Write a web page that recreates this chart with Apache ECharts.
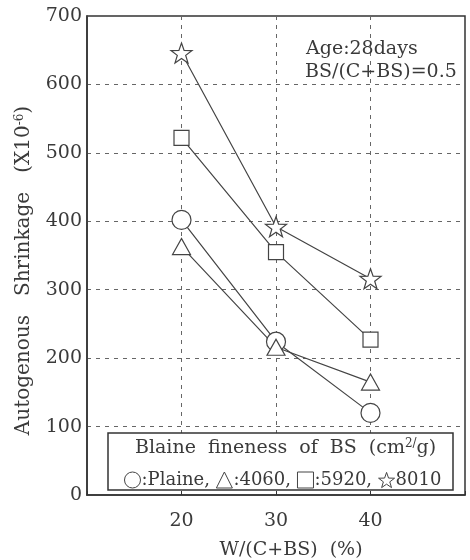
<!DOCTYPE html>
<html><head><meta charset="utf-8">
<script src="https://cdn.jsdelivr.net/npm/echarts@6/dist/echarts.min.js"></script>
<style>html,body{margin:0;padding:0;background:#fff}#c{width:470px;height:560px}</style>
</head><body><div id="c"></div>
<script>
const xValues = [20, 30, 40];
const seriesNames = ['Plaine', '4060', '5920', '8010'];
const plaine = [402, 224, 120];
const b4060 = [363, 216, 165];
const b5920 = [522, 355, 227];
const b8010 = [646, 392, 316];
const yTicks = [0, 100, 200, 300, 400, 500, 600, 700];
const xTicks = [20, 30, 40];

const FONT = "'DejaVu Serif','Liberation Serif',serif";
const INK = '#3a3a3a';
const STAR = 'path://M0,-10L2.35,-3.24L9.51,-3.09L3.8,1.24L5.88,8.09L0,4L-5.88,8.09L-3.8,1.24L-9.51,-3.09L-2.35,-3.24Z';
const symbols = ['circle', 'triangle', 'rect', STAR];
const sizes = [19, [18, 16], 15, 21];
const values = [plaine, b4060, b5920, b8010];

const chart = echarts.init(document.getElementById('c'), null, {renderer: 'canvas'});
chart.setOption({
  backgroundColor: '#fff',
  animation: false,
  grid: {left: 87, right: 5, top: 16, bottom: 65, show: true, borderColor: '#333', borderWidth: 1.5,
    backgroundColor: 'transparent', containLabel: false, outerBoundsMode: 'none'},
  xAxis: {
    type: 'value', min: 10, max: 50, interval: 10,
    axisLine: {lineStyle: {color: '#333', width: 1.5}},
    axisTick: {show: true, inside: true, length: 4, lineStyle: {color: '#333'}},
    axisLabel: {fontFamily: FONT, fontSize: 19, color: INK, margin: 17,
      formatter: v => xTicks.includes(v) ? String(v) : ''},
    splitLine: {show: true, lineStyle: {type: [4, 5], color: '#666', width: 1}},
    name: 'W/(C+BS)  (%)', nameLocation: 'middle', nameGap: 46,
    nameTextStyle: {fontFamily: FONT, fontSize: 19, color: INK, padding: [0, 0, 0, 30]}
  },
  yAxis: {
    type: 'value', min: 0, max: 700, interval: 100,
    axisLine: {show: true, lineStyle: {color: '#333', width: 1.5}},
    axisTick: {show: false},
    axisLabel: {fontFamily: FONT, fontSize: 19, color: INK, margin: 5,
      formatter: v => yTicks.includes(v) ? String(v) : ''},
    splitLine: {show: true, lineStyle: {type: [4, 5], color: '#666', width: 1}},
    name: '{n|Autogenous   Shrinkage   (X10}{s|-6}{n|)}', nameLocation: 'middle', nameGap: 53, nameRotate: 90,
    nameTextStyle: {padding: [0, 0, 0, -30], rich: {
      n: {fontFamily: FONT, fontSize: 20, color: INK},
      s: {fontFamily: FONT, fontSize: 12, color: INK, verticalAlign: 'top', padding: [0, 0, 8, 0]}
    }}
  },
  legend: {
    z: 20, left: 119, top: 466, orient: 'horizontal', itemGap: 6, itemWidth: 16, itemHeight: 16,
    textStyle: {fontFamily: FONT, fontSize: 18, color: INK, padding: [2, 0, 0, -4]},
    itemStyle: {color: '#fff', borderColor: '#444', borderWidth: 1},
    formatter: name => name === '8010' ? name : ':' + name + ',',
    data: seriesNames.map((n, i) => ({name: n, icon: symbols[i]}))
  },
  graphic: [
    {type: 'rect', z: 10, shape: {x: 108, y: 433, width: 345, height: 57},
      style: {fill: '#fff', stroke: '#333', lineWidth: 1.5}},
    {type: 'text', z: 11, left: 135, top: 438, style: {
      text: '{n|Blaine  fineness  of  BS  (cm}{s|2/}{n|g)}',
      rich: {n: {fontFamily: FONT, fontSize: 19, fill: INK}, s: {fontFamily: FONT, fontSize: 12, fill: INK, verticalAlign: 'top', padding: [0, 0, 9, 0]}}
    }},
    {type: 'text', z: 11, left: 306, top: 40, style: {text: 'Age:28days', fontFamily: FONT, fontSize: 19, fill: INK}},
    {type: 'text', z: 11, left: 305, top: 63, style: {text: 'BS/(C+BS)=0.5', fontFamily: FONT, fontSize: 19, fill: INK}}
  ],
  series: seriesNames.map((n, i) => ({
    name: n, type: 'line',
    data: xValues.map((x, j) => [x, values[i][j]]),
    symbol: symbols[i], symbolSize: sizes[i], symbolKeepAspect: true, showAllSymbol: true,
    lineStyle: {color: '#444', width: 1.2},
    itemStyle: {color: '#fff', borderColor: '#444', borderWidth: 1.2},
    z: 5
  }))
});
</script></body></html>
